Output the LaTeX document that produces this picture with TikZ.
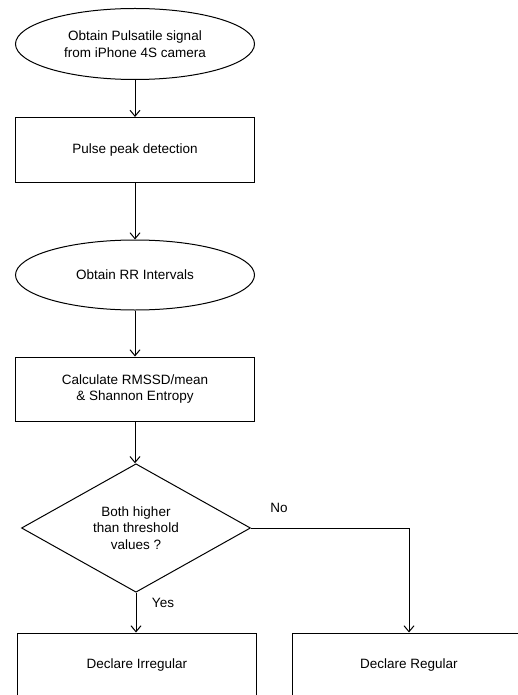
\documentclass[tikz,border=0pt]{standalone}
\usepackage{fontspec}
\setmainfont{Liberation Sans}
\usetikzlibrary{shapes.geometric, arrows.meta, positioning}

\tikzset{
    flowtext/.style={font=\fontsize{13.5}{16.5}\selectfont, align=center, inner sep=0pt},
    oval/.style={draw, ellipse, flowtext, minimum width=239, minimum height=71},
    stepbox/.style={draw, rectangle, flowtext, minimum width=239, minimum height=64},
    choice/.style={draw, diamond, flowtext, minimum width=229, minimum height=118},
}

\begin{document}
\begin{tikzpicture}[x=1pt, y=-1pt, line width=1pt, >={Straight Barb[length=6pt, width=10pt]}]
    \useasboundingbox (0,0) rectangle (518,695);
    \clip (0,0) rectangle (518,695);

    % Main column
    \node[oval] (signal) at (135,44) {Obtain Pulsatile signal\\from iPhone 4S camera};
    \node[stepbox, minimum height=65] (peak) at (135,150) {Pulse peak detection};
    \node[oval, minimum height=70] (rr) at (135,275) {Obtain RR Intervals};
    \node[stepbox] (calc) at (135,389) {Calculate RMSSD/mean\\\& Shannon Entropy};
    \node[choice] (test) at (136,528) {Both higher\\than threshold\\values ?};

    % Outcomes
    \node[stepbox] (irregular) at (137,665) {Declare Irregular};
    \node[stepbox, minimum width=234] (regular) at (409,665) {Declare Regular};

    % Arrows
    \draw[->] (signal) -- (peak);
    \draw[->] (peak) -- (rr);
    \draw[->] (rr) -- (calc);
    \draw[->] (calc.south) -- (calc.south |- test.north);
    \draw[->] (test.south) -- (test.south |- irregular.north);
    \draw[->] (test.east) -| (regular.north);

    % Labels
    \node[flowtext] (no) at (279,508) {No};
    \node[flowtext] (yes) at (163,603) {Yes};
\end{tikzpicture}
\end{document}
